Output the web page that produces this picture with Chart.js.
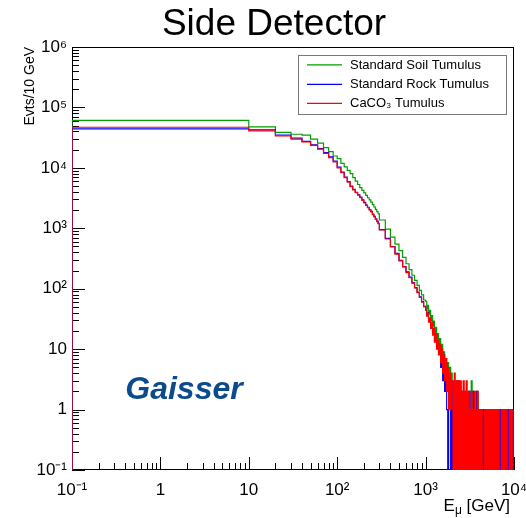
<!DOCTYPE html>
<html>
<head>
<meta charset="utf-8">
<script src="https://cdn.jsdelivr.net/npm/chart.js@4"></script>
<style>
  body { margin: 0; background: #fff; }
  canvas { display: block; }
</style>
</head>
<body>
<canvas id="chart" width="526" height="518"></canvas>
<script>
// histogram bin low edges [GeV] - 10 GeV bins, merged where a bin is narrower than a pixel
const lowEdges = [0, 10, 20, 30, 40, 50, 60, 70, 80, 90, 100, 110, 120, 130, 140, 150, 160, 170, 180, 190,
    200, 210, 220, 230, 240, 250, 260, 270, 280, 290, 300, 350, 400, 450, 500, 550, 600, 650, 700, 750,
    800, 850, 900, 950];
const midEdges = [1000, 1030, 1050, 1080, 1110, 1140, 1170, 1200, 1230, 1260, 1300, 1330, 1370, 1400,
    1440, 1480, 1520, 1560, 1600, 1640, 1690, 1730, 1780, 1820, 1870, 1920, 1970];
const tailEdges = [2000, 2050, 2110, 2160, 2220, 2280, 2340, 2400, 2460, 2530, 2600, 2660, 2730, 2800,
    2880, 2950, 3030, 3110, 3190, 3280, 3360, 3450, 3540, 3640, 3730, 3830, 3930, 4040, 4140, 4250, 4370,
    4480, 4600, 4720, 4850, 4980, 5110, 5240, 5380, 5520, 5670, 5820, 5970, 6130, 6290, 6460, 6630, 6800,
    6980, 7170, 7360, 7550, 7750, 7960, 8170, 8380, 8600, 8830, 9070, 9310, 9550, 9800];

// Standard Soil Tumulus
const soilLow = [61000, 47500, 38700, 36000, 34900, 30000, 25600, 21600, 18500, 15700, 14200, 11900, 10400,
    9100, 8000, 6900, 6050, 5300, 4700, 4250, 3850, 3500, 3200, 2950, 2720, 2460, 2250, 2060, 1890, 1740,
    1370, 966, 713, 546, 426, 330, 259, 207, 167, 137, 114, 94, 79, 65];
const soilMid = [62, 47, 53, 38, 44, 30, 36, 24, 29, 18, 23, 14, 18, 11, 15, 8, 12, 6, 9, 4, 7, 3, 6, 2, 5, 1, 4];
const soilTail = [2, 1, 0, 2, 1, 0, 3, 1, 0, 2, 1, 0, 2, 1, 0, 1, 2, 0, 1, 3, 0, 2, 1, 0, 1, 2, 0,
    1, 0, 1, 0, 1, 1, 0, 1, 0, 1, 0, 0, 1, 0, 1, 0, 1, 0, 1, 1, 0, 1, 0, 1, 0, 1, 0, 1, 0, 1, 0, 1, 1, 0, 1];

// Standard Rock Tumulus
const rockLow = [44000, 42500, 35000, 31000, 27500, 24000, 20800, 17800, 15200, 12900, 10300, 8500, 7000,
    5950, 5000, 4400, 3950, 3560, 3280, 2950, 2680, 2420, 2230, 2040, 1900, 1710, 1570, 1430, 1310, 1210,
    950, 680, 500, 385, 295, 232, 190, 155, 126, 104, 88, 73, 61, 51];
const rockMid = [44, 36, 40, 29, 31, 24, 27, 18, 21, 14, 17, 11, 13, 9, 11, 5, 9, 3, 8, 2, 6, 1, 0, 3, 2, 0, 3];
const rockTail = [0, 1, 2, 0, 1, 3, 0, 1, 2, 0, 1, 2, 0, 1, 1, 0, 1, 2, 0, 1, 0, 2, 0, 1, 2, 0, 1,
    0, 1, 0, 1, 0, 1, 1, 0, 1, 0, 1, 0, 1, 0, 1, 0, 1, 0, 1, 0, 1, 0, 1, 0, 1, 1, 0, 1, 0, 1, 0, 1, 0, 1, 1];

// CaCO3 Tumulus
const caco3Low = [47000, 41000, 33700, 30000, 26800, 23500, 20400, 17400, 14800, 12600, 10000, 8300, 6900,
    5800, 4900, 4320, 3880, 3530, 3210, 2900, 2620, 2390, 2190, 2020, 1860, 1680, 1540, 1410, 1290, 1190,
    937, 665, 492, 374, 289, 229, 185, 152, 124, 103, 86, 72, 60, 50];
const caco3Mid = [46, 35, 39, 28, 33, 22, 28, 17, 22, 13, 18, 10, 14, 8, 12, 6, 10, 4, 8, 3, 7, 2, 5, 1, 4, 1, 3];
const caco3Tail = [3, 2, 4, 1, 3, 2, 3, 1, 3, 2, 2, 3, 1, 2, 3, 1, 2, 1, 1, 2, 1, 1, 2, 1, 1, 2, 1,
    1, 1, 1, 0, 0, 1, 1, 1, 1, 1, 1, 1, 1, 1, 1, 1, 1, 1, 1, 1, 0, 0, 1, 1, 1, 1, 1, 1, 0, 0, 1, 1, 1, 0, 0];

const seriesNames = ['Standard Soil Tumulus', 'Standard Rock Tumulus', 'CaCO\u2083 Tumulus'];
const seriesColors = ['#00a000', '#0000ff', '#ff0000'];

const xTicks = [0.1, 1, 10, 100, 1000, 10000];
const xTickLabels = ['10\u207B\u00B9', '1', '10', '10\u00B2', '10\u00B3', '10\u2074'];
const yTicks = [0.1, 1, 10, 100, 1000, 10000, 100000, 1000000];
const yTickLabels = ['10\u207B\u00B9', '1', '10', '10\u00B2', '10\u00B3', '10\u2074', '10\u2075', '10\u2076'];

const FONT = '"Liberation Sans", Arial, Helvetica, sans-serif';
const xMin = 0.1, xMax = 10000;
const EMPTY = 0.01; // empty bins fall below the axis like in ROOT

function buildPoints(low, mid, tail) {
    const edges = lowEdges.concat(midEdges, tailEdges);
    const counts = low.concat(mid, tail);
    let pts = [{x: xMin, y: EMPTY}];
    edges.forEach((e, i) => {
        pts.push({x: Math.max(e, xMin), y: counts[i] > 0 ? counts[i] : EMPTY});
    });
    pts.push({x: xMax, y: EMPTY});
    return pts;
}

const allSeries = [
    buildPoints(soilLow, soilMid, soilTail),
    buildPoints(rockLow, rockMid, rockTail),
    buildPoints(caco3Low, caco3Mid, caco3Tail)
];

// frame + ROOT style inward ticks, under the histograms
const framePlugin = {
    id: 'frame',
    beforeDatasetsDraw(chart) {
        const {ctx, chartArea: a, scales} = chart;
        ctx.save();
        ctx.strokeStyle = '#000';
        ctx.lineWidth = 1;
        ctx.strokeRect(a.left + 0.5, a.top + 0.5, a.right - a.left - 1, a.bottom - a.top - 1);
        ctx.beginPath();
        xTicks.forEach((d, k) => {
            for (let m = 1; m <= 9; m++) {
                if (m > 1 && k === xTicks.length - 1) break;
                const px = Math.round(scales.x.getPixelForValue(d * m)) + 0.5;
                const len = m === 1 ? 13 : 7;
                ctx.moveTo(px, a.bottom);
                ctx.lineTo(px, a.bottom - len);
            }
        });
        yTicks.forEach((d, k) => {
            for (let m = 1; m <= 9; m++) {
                if (m > 1 && k === yTicks.length - 1) break;
                const py = Math.round(scales.y.getPixelForValue(d * m)) + 0.5;
                const len = m === 1 ? 13 : 7;
                ctx.moveTo(a.left, py);
                ctx.lineTo(a.left + len, py);
            }
        });
        ctx.stroke();
        ctx.restore();
    },
    afterDraw(chart) {
        const {ctx} = chart;
        ctx.save();
        // title
        ctx.fillStyle = '#000';
        ctx.font = '37px ' + FONT;
        ctx.textAlign = 'center';
        ctx.textBaseline = 'alphabetic';
        ctx.fillText('Side Detector', 274, 35);

        // legend box
        ctx.fillStyle = '#fff';
        ctx.fillRect(298, 55, 209, 60);
        ctx.strokeStyle = '#777';
        ctx.lineWidth = 1;
        ctx.strokeRect(298.5, 55.5, 208, 59);
        const rows = [64.8, 84.3, 103.3];
        ctx.font = '13px ' + FONT;
        ctx.textAlign = 'left';
        ctx.textBaseline = 'middle';
        chart.data.datasets.forEach((ds, i) => {
            ctx.strokeStyle = ds.borderColor;
            ctx.lineWidth = 1.2;
            ctx.beginPath();
            ctx.moveTo(307, rows[i]);
            ctx.lineTo(342, rows[i]);
            ctx.stroke();
            ctx.fillStyle = '#000';
            ctx.fillText(ds.label, 350, Math.round(rows[i]));
        });

        // x axis title E_mu [GeV], right aligned at the axis end
        ctx.textBaseline = 'alphabetic';
        ctx.textAlign = 'left';
        ctx.font = '17px ' + FONT;
        const wE = ctx.measureText('E').width;
        const wRest = ctx.measureText(' [GeV]').width;
        ctx.font = '12px ' + FONT;
        const wMu = ctx.measureText('\u03BC').width;
        let x0 = 510 - wE - wMu - wRest;
        ctx.font = '17px ' + FONT;
        ctx.fillText('E', x0, 511);
        ctx.font = '12px ' + FONT;
        ctx.fillText('\u03BC', x0 + wE, 514);
        ctx.font = '17px ' + FONT;
        ctx.fillText(' [GeV]', x0 + wE + wMu, 511);

        // model label
        ctx.font = 'italic bold 32px ' + FONT;
        ctx.fillStyle = '#0b4a8c';
        ctx.textAlign = 'center';
        ctx.fillText('Gaisser', 184, 399);
        ctx.restore();
    }
};

const CLEAR = 'rgba(0,0,0,0)';

new Chart(document.getElementById('chart'), {
    type: 'line',
    data: {
        datasets: allSeries.map((pts, i) => ({
            label: seriesNames[i],
            data: pts,
            borderColor: seriesColors[i],
            borderWidth: 1.2,
            pointRadius: 0,
            stepped: 'before',
            // the few-count tail is so dense it reads as a solid block
            fill: i === 2 ? 'origin' : false,
            backgroundColor: CLEAR,
            segment: {
                backgroundColor: (c) => (i === 2 && c.p0.parsed.x >= tailEdges[0]) ? seriesColors[i] : CLEAR
            },
            order: 3 - i
        }))
    },
    options: {
        responsive: false,
        animation: false,
        devicePixelRatio: 1,
        layout: { padding: { top: 47, right: 12, left: 0, bottom: 0 } },
        plugins: {
            legend: { display: false },
            tooltip: { enabled: false }
        },
        scales: {
            x: {
                type: 'logarithmic',
                min: xMin,
                max: xMax,
                grid: { display: false, drawTicks: false },
                border: { display: false },
                afterFit: (s) => { s.height = 48; s.paddingLeft = 0; s.paddingRight = 0; },
                afterBuildTicks: (s) => { s.ticks = xTicks.map(v => ({value: v})); },
                ticks: {
                    autoSkip: false,
                    maxRotation: 0,
                    padding: 10,
                    color: '#000',
                    font: { family: FONT, size: 17 },
                    callback: (v, i) => xTickLabels[i]
                }
            },
            y: {
                type: 'logarithmic',
                min: 0.1,
                max: 1000000,
                grid: { display: false, drawTicks: false },
                border: { display: false },
                afterFit: (s) => { s.width = 72; s.paddingTop = 0; s.paddingBottom = 0; },
                afterBuildTicks: (s) => { s.ticks = yTicks.map(v => ({value: v})); },
                ticks: {
                    autoSkip: false,
                    padding: 5,
                    color: '#000',
                    font: { family: FONT, size: 17 },
                    callback: (v, i) => yTickLabels[i]
                },
                title: {
                    display: true,
                    text: 'Evts/10 GeV',
                    align: 'end',
                    color: '#000',
                    font: { family: FONT, size: 14 },
                    padding: { top: 22, bottom: 0 }
                }
            }
        }
    },
    plugins: [framePlugin]
});
</script>
</body>
</html>
